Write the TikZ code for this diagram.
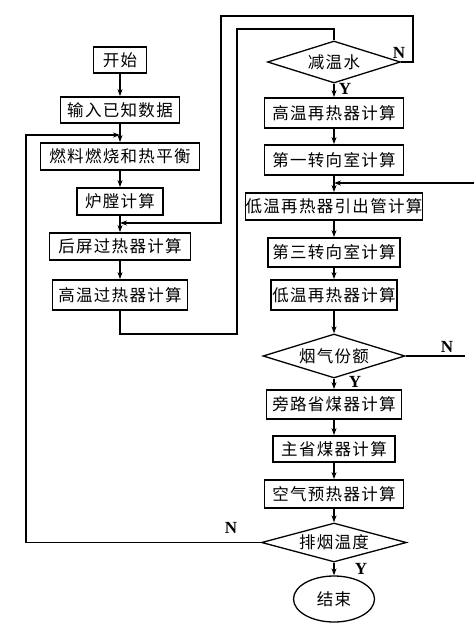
\documentclass[tikz,border=0pt]{standalone}
\usepackage{fontspec}
\setmainfont{Liberation Serif}
\newfontfamily\cjk[LetterSpace=8]{Noto Sans CJK SC}
\usetikzlibrary{shapes.geometric}
\usetikzlibrary{calc}
\usetikzlibrary {arrows.meta}
\tikzset{>={Stealth[length=7pt,width=5pt]}}
\tikzset{
	proc/.style={draw, line width=1.8pt, inner sep=0pt, font=\fontsize{16.5}{18}\cjk},
	decide/.style={draw, diamond, aspect=3, line width=1.3pt, inner sep=0pt, font=\fontsize{16.5}{18}\cjk},
	flow/.style={line width=1.2pt},
	yn/.style={font=\fontsize{17}{18}\selectfont\bfseries, inner sep=0pt}
}

\begin{document}
\begin{tikzpicture}[x=1pt, y=-1pt]
\useasboundingbox (0,0) rectangle (474,631);

% left column
\node [proc, minimum width=53pt, minimum height=26pt] (start) at (120, 60) {开始};
\node [proc, minimum width=119pt, minimum height=26pt] (input) at (120, 110) {输入已知数据};
\node [proc, minimum width=159pt, minimum height=27pt] (fuel) at (120, 156.5) {燃料燃烧和热平衡};
\node [proc, minimum width=86pt, minimum height=27pt] (furnace) at (120, 201.5) {炉膛计算};
\node [proc, minimum width=141pt, minimum height=27pt] (screen) at (120, 246.5) {后屏过热器计算};
\node [proc, minimum width=135pt, minimum height=30pt] (hsh) at (120, 295) {高温过热器计算};

% right column
\node [decide, minimum width=133pt, minimum height=42pt] (desuper) at (334, 62) {减温水};
\node [proc, minimum width=139pt, minimum height=30pt] (hrh) at (334, 113) {高温再热器计算};
\node [proc, minimum width=139pt, minimum height=30pt] (turn1) at (334, 160) {第一转向室计算};
\node [proc, minimum width=177pt, minimum height=27pt] (lrhpipe) at (334, 206.5) {低温再热器引出管计算};
\node [proc, minimum width=132pt, minimum height=29pt] (turn3) at (334, 252.5) {第三转向室计算};
\node [proc, minimum width=126pt, minimum height=30pt] (lrh) at (334, 295) {低温再热器计算};
\node [decide, minimum width=142pt, minimum height=44pt] (gasfrac) at (334, 356) {烟气份额};
\node [proc, minimum width=135pt, minimum height=29pt] (bypass) at (334, 404.5) {旁路省煤器计算};
\node [proc, minimum width=122pt, minimum height=26pt] (mainecon) at (334, 449) {主省煤器计算};
\node [proc, minimum width=139pt, minimum height=28pt] (airph) at (334, 494) {空气预热器计算};
\node [decide, minimum width=145pt, minimum height=39pt] (exhaust) at (334, 542.5) {排烟温度};
\node [draw, ellipse, line width=1.3pt, minimum width=81pt, minimum height=46pt, font=\fontsize{16.5}{18}\cjk] (finish) at (334, 599) {结束};

\coordinate (j1) at (120, 223);
\coordinate (j2) at (334, 183);
\coordinate (j3) at (120, 135);
\coordinate (in2) at (474, 183);
\coordinate (out1) at (465, 356);

	\draw [flow, ->] (start) -- (input);
	\draw [flow, ->] (input) -- (fuel);
	\draw [flow, ->] (fuel) -- (furnace);
	\draw [flow, ->] (furnace) -- (screen);
	\draw [flow, ->] (screen) -- (hsh);
	\draw [flow] (hsh.south) -- ++(0, 23) -| (237, 29) -| (desuper.north);
	\draw [flow, ->] (desuper.east) -| (413, 16) -| (221, 223) -- (j1);
	\draw [flow, ->] (desuper) -- (hrh);
	\draw [flow, ->] (hrh) -- (turn1);
	\draw [flow, ->] (turn1) -- (lrhpipe);
	\draw [flow, ->] (in2) -- (j2);
	\draw [flow, ->] (lrhpipe) -- (turn3);
	\draw [flow, ->] (turn3) -- (lrh);
	\draw [flow, ->] (lrh) -- (gasfrac);
	\draw [flow] (gasfrac.east) -- (out1);
	\draw [flow, ->] (gasfrac) -- (bypass);
	\draw [flow, ->] (bypass) -- (mainecon);
	\draw [flow, ->] (mainecon) -- (airph);
	\draw [flow, ->] (airph) -- (exhaust);
	\draw [flow, ->] (exhaust.west) -| (26, 135) -- (j3);
	\draw [flow, ->] (exhaust) -- (finish);

\node [yn] (n1) at (399, 53) {N};
\node [yn] (y1) at (345, 89) {Y};
\node [yn] (n2) at (447, 347) {N};
\node [yn] (y2) at (355, 382) {Y};
\node [yn] (n3) at (231, 528) {N};
\node [yn] (y3) at (361, 569) {Y};
\end{tikzpicture}
\end{document}
